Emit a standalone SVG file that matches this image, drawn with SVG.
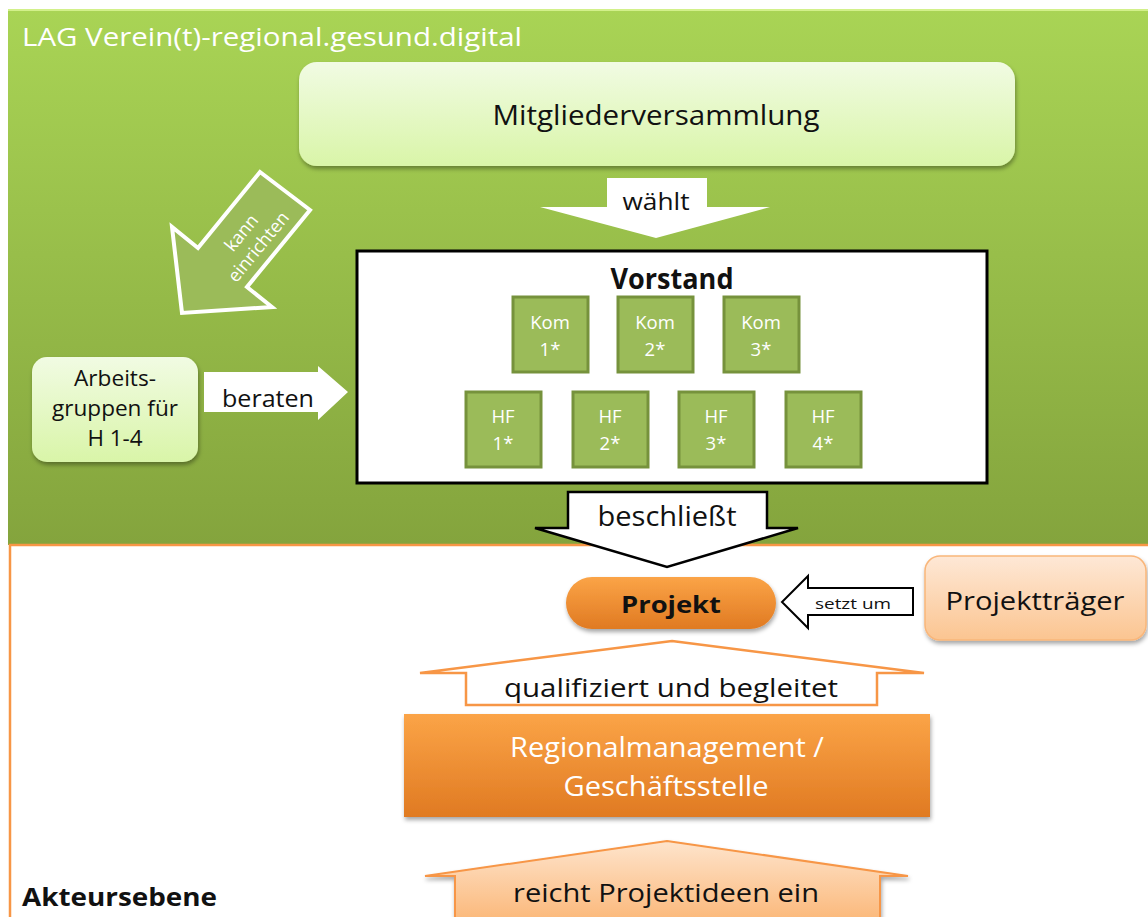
<svg xmlns="http://www.w3.org/2000/svg" width="1148" height="917" viewBox="0 0 1148 917">
<style>
text{font-family:"Open Sans","Noto Sans","DejaVu Sans",sans-serif;}
.blk{fill:#111;}
.wht{fill:#fff;}
.b{font-weight:bold;}
.mid{text-anchor:middle;}
.small{fill:#9bbb59;stroke:#76923c;stroke-width:3;}
.lt{font-size:18.5px;fill:#fff;text-anchor:middle;}
</style>
<defs>
<linearGradient id="gGreen" x1="0" y1="0" x2="0" y2="1">
<stop offset="0" stop-color="#a9d455"/>
<stop offset="1" stop-color="#84a43d"/>
</linearGradient>
<linearGradient id="gLight" x1="0" y1="0" x2="0" y2="1">
<stop offset="0" stop-color="#f1fbe3"/>
<stop offset="1" stop-color="#d9f5a8"/>
</linearGradient>
<linearGradient id="gOrange" x1="0" y1="0" x2="0" y2="1">
<stop offset="0" stop-color="#fba447"/>
<stop offset="1" stop-color="#e07a22"/>
</linearGradient>
<linearGradient id="gPeach" x1="0" y1="0" x2="0" y2="1">
<stop offset="0" stop-color="#fee8d6"/>
<stop offset="1" stop-color="#fbc591"/>
</linearGradient>
<linearGradient id="gPeach2" x1="0" y1="0" x2="0" y2="1">
<stop offset="0" stop-color="#fee4cc"/>
<stop offset="1" stop-color="#fbb676"/>
</linearGradient>
<filter id="sh" x="-10%" y="-10%" width="120%" height="130%">
<feDropShadow dx="1" dy="3" stdDeviation="2" flood-color="#000" flood-opacity="0.35"/>
</filter>
</defs>

<g id="background">
<rect x="8" y="9" width="1150" height="536" fill="url(#gGreen)"/>
<line x1="8" y1="10" x2="1148" y2="10" stroke="#d2f08a" stroke-width="2"/>
<rect x="10" y="545" width="1150" height="380" fill="#fff" stroke="#f79646" stroke-width="2.5"/>
<text x="22" y="46" font-size="26" class="wht" textLength="500" lengthAdjust="spacingAndGlyphs">LAG Verein(t)-regional.gesund.digital</text>
<text x="22" y="906" font-size="25" class="blk b" textLength="195" lengthAdjust="spacingAndGlyphs">Akteursebene</text>
</g>

<g id="connectors">
<g id="arrow-waehlt">
<polygon points="607,178 707,178 707,207 770,207 656,238 540,207 607,207" fill="#fff"/>
<text x="656" y="210" font-size="23" class="blk mid" textLength="67" lengthAdjust="spacingAndGlyphs">wählt</text>
</g>
<g id="arrow-kann">
<polygon points="260,172 310,210 247,287 272,307 182,313 172,227 198,248" fill="#9bbb59" stroke="#fff" stroke-width="4" stroke-linejoin="miter"/>
<g transform="translate(250,240) rotate(-50.5)">
<text x="0" y="-5" font-size="18" class="wht mid">kann</text>
<text x="0" y="17" font-size="18" class="wht mid">einrichten</text>
</g>
</g>
<g id="arrow-beraten">
<polygon points="204,372 318,372 318,366 348,392 318,420 318,412 204,412" fill="#fff"/>
<text x="268" y="407" font-size="23" class="blk mid" textLength="92" lengthAdjust="spacingAndGlyphs">beraten</text>
</g>
<g id="arrow-beschliesst">
<polygon points="568,492 767,492 767,528 798,528 667,567 535,528 568,528" fill="#fff" stroke="#000" stroke-width="2.5"/>
<text x="667" y="526" font-size="27" class="blk mid" textLength="139" lengthAdjust="spacingAndGlyphs">beschließt</text>
</g>
<g id="arrow-setzt">
<polygon points="913,588 913,615 808,615 808,628 782,602 808,576 808,588" fill="#fff" stroke="#000" stroke-width="2"/>
<text x="853" y="609" font-size="15" class="blk mid" textLength="76" lengthAdjust="spacingAndGlyphs">setzt um</text>
</g>
<g id="arrow-qualifiziert">
<polygon points="672,641 924,673 877,673 877,705 466,705 466,673 420,673" fill="#fff" stroke="#f79646" stroke-width="2.5"/>
<text x="671" y="697" font-size="25" class="blk mid" textLength="334" lengthAdjust="spacingAndGlyphs">qualifiziert und begleitet</text>
</g>
<g id="arrow-reicht">
<polygon points="667,841 908,876 880,876 880,925 455,925 455,876 425,876" fill="url(#gPeach2)" stroke="#f79646" stroke-width="2" filter="url(#sh)"/>
<text x="666" y="902" font-size="26" class="blk mid" textLength="306" lengthAdjust="spacingAndGlyphs">reicht Projektideen ein</text>
</g>
</g>

<g id="node-mitglieder">
<rect x="299" y="62" width="716" height="104" rx="18" fill="url(#gLight)" filter="url(#sh)"/>
<text x="656" y="125" font-size="28" class="blk mid" textLength="327" lengthAdjust="spacingAndGlyphs">Mitgliederversammlung</text>
</g>

<g id="node-vorstand">
<rect x="357" y="251" width="630" height="232" fill="#fff" stroke="#000" stroke-width="3"/>
<text x="672" y="289" font-size="28" class="blk b mid" textLength="123" lengthAdjust="spacingAndGlyphs">Vorstand</text>
</g>
<g id="node-kom1"><rect x="513" y="297" width="75" height="75" class="small"/><text x="550" y="329" class="lt">Kom</text><text x="550" y="356" class="lt">1*</text></g>
<g id="node-kom2"><rect x="618" y="297" width="75" height="75" class="small"/><text x="655" y="329" class="lt">Kom</text><text x="655" y="356" class="lt">2*</text></g>
<g id="node-kom3"><rect x="724" y="297" width="75" height="75" class="small"/><text x="761" y="329" class="lt">Kom</text><text x="761" y="356" class="lt">3*</text></g>
<g id="node-hf1"><rect x="466" y="392" width="75" height="75" class="small"/><text x="503" y="423" class="lt">HF</text><text x="503" y="450" class="lt">1*</text></g>
<g id="node-hf2"><rect x="573" y="392" width="75" height="75" class="small"/><text x="610" y="423" class="lt">HF</text><text x="610" y="450" class="lt">2*</text></g>
<g id="node-hf3"><rect x="679" y="392" width="75" height="75" class="small"/><text x="716" y="423" class="lt">HF</text><text x="716" y="450" class="lt">3*</text></g>
<g id="node-hf4"><rect x="786" y="392" width="75" height="75" class="small"/><text x="823" y="423" class="lt">HF</text><text x="823" y="450" class="lt">4*</text></g>

<g id="node-arbeitsgruppen">
<rect x="32" y="357" width="166" height="105" rx="15" fill="url(#gLight)" filter="url(#sh)"/>
<text x="115" y="386" font-size="21" class="blk mid" textLength="82" lengthAdjust="spacingAndGlyphs">Arbeits-</text>
<text x="115" y="416" font-size="21" class="blk mid" textLength="126" lengthAdjust="spacingAndGlyphs">gruppen für</text>
<text x="115" y="446" font-size="21" class="blk mid" textLength="55" lengthAdjust="spacingAndGlyphs">H 1-4</text>
</g>

<g id="node-projekt">
<rect x="566" y="577" width="210" height="52" rx="26" fill="url(#gOrange)" filter="url(#sh)"/>
<text x="671" y="613" font-size="24" class="blk b mid" textLength="100" lengthAdjust="spacingAndGlyphs">Projekt</text>
</g>

<g id="node-projekttraeger">
<rect x="925" y="556" width="221" height="84" rx="15" fill="url(#gPeach)" stroke="#f9b67a" stroke-width="1.5" filter="url(#sh)"/>
<text x="1035" y="610" font-size="26" class="blk mid" textLength="179" lengthAdjust="spacingAndGlyphs">Projektträger</text>
</g>

<g id="node-regional">
<rect x="404" y="714" width="526" height="103" fill="url(#gOrange)" filter="url(#sh)"/>
<text x="667" y="757" font-size="27" class="wht mid" textLength="314" lengthAdjust="spacingAndGlyphs">Regionalmanagement /</text>
<text x="666" y="796" font-size="27" class="wht mid" textLength="205" lengthAdjust="spacingAndGlyphs">Geschäftsstelle</text>
</g>
</svg>
